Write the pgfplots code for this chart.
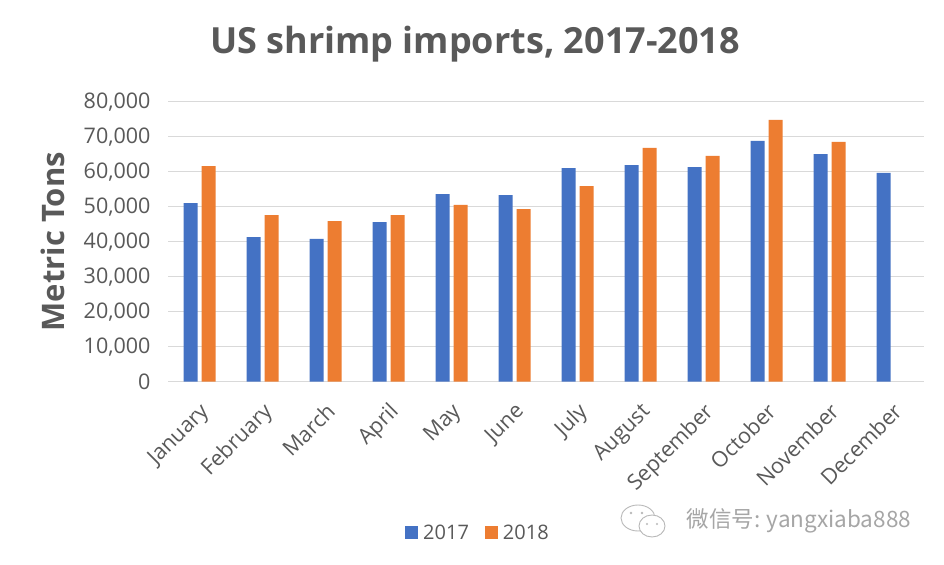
\documentclass[border=0pt]{standalone}
\usepackage{pgfplots}
\pgfplotsset{compat=1.18}
\usepackage{fontspec}
\setmainfont{Open Sans}
\newfontfamily\cjk{Noto Sans CJK SC}
\definecolor{xblue}{HTML}{4472C4}
\definecolor{xorange}{HTML}{ED7D31}
\definecolor{txt}{HTML}{595959}
\definecolor{gridc}{HTML}{D9D9D9}
\begin{document}
\begin{tikzpicture}
\path[use as bounding box, fill=white] (0,0) rectangle (944bp,565bp);
\begin{axis}[
  at={(168bp,183.3bp)}, anchor=south west,
  scale only axis, width=756bp, height=280bp,
  xmin=-0.5, xmax=11.5, ymin=0, ymax=80000,
  ybar=4bp, bar width=14bp,
  xtick=data,
  xticklabels={January,February,March,April,May,June,July,August,September,October,November,December},
  ytick={0,10000,...,80000},
  /pgf/number format/assume math mode=true,
  /pgf/number format/1000 sep={,},
  scaled y ticks=false,
  ymajorgrids, grid style={gridc, line width=1pt},
  axis line style={draw=none},
  major tick length=0pt,
  tick label style={font=\fontsize{21.5bp}{25bp}\selectfont, text=txt},
  yticklabel style={anchor=east, xshift=-14bp},
  xticklabel style={rotate=45, anchor=north east, xshift=-11bp, yshift=-10bp},
  ylabel={Metric Tons},
  ylabel style={font=\bfseries\fontsize{31bp}{36bp}\selectfont, text=txt, at={(axis description cs:-0.152,0.5)}, anchor=center, rotate=0},
  legend style={draw=none, fill=none, at={(axis description cs:0.41,-0.54)}, anchor=center, legend columns=2, font=\fontsize{20bp}{24bp}\selectfont, text=txt, /tikz/every even column/.append style={column sep=14bp}, /tikz/every odd column/.append style={column sep=3bp}},
  legend image code/.code={\fill[#1] (0bp,-6.5bp) rectangle (13bp,6.5bp);},
]
\addplot[fill=xblue, draw=none] coordinates {(0,51000) (1,41300) (2,40800) (3,45600) (4,53600) (5,53300) (6,61000) (7,61900) (8,61300) (9,68800) (10,65000) (11,59700)};
\addplot[fill=xorange, draw=none] coordinates {(0,61600) (1,47600) (2,45900) (3,47600) (4,50500) (5,49300) (6,55900) (7,66800) (8,64500) (9,74800) (10,68500)};
\legend{2017,2018}
\end{axis}
\node[font=\bfseries\fontsize{36bp}{42bp}\selectfont, text=txt] at (475bp,521bp) {US shrimp imports, 2017-2018};
% watermark
\begin{scope}[draw=gray!55, line width=0.9bp]
\draw (638bp,47bp) ellipse (17bp and 13bp);
\draw[fill=white] (652bp,39bp) ellipse (13bp and 11bp);
\fill[gray!55] (631bp,52bp) circle (1.3bp) (642bp,52bp) circle (1.3bp) (647bp,41bp) circle (1.1bp) (657bp,41bp) circle (1.1bp);
\end{scope}
\node[anchor=west, font=\cjk\fontsize{22.5bp}{26bp}\selectfont, text=gray!70] at (683bp,44bp) {微信号: yangxiaba888};
\end{tikzpicture}
\end{document}
